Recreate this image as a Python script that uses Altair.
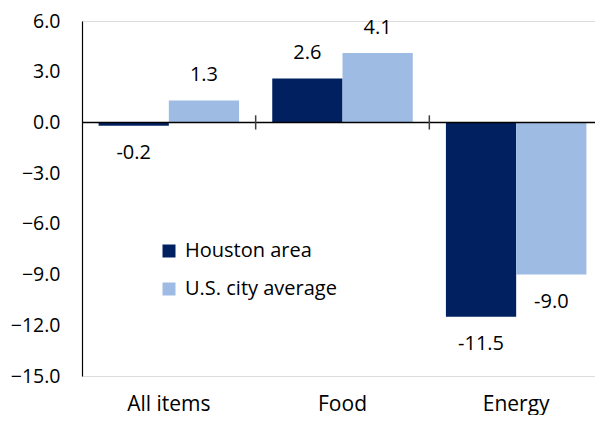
import altair as alt
import pandas as pd

categories = ["All items", "Food", "Energy"]
series = ["Houston area", "U.S. city average"]
houston = [-0.2, 2.6, -11.5]
us_avg = [1.3, 4.1, -9.0]
y_ticks = [-15, -12, -9, -6, -3, 0, 3, 6]
colors = ["#002060", "#9DBBE3"]

rows = []
for c, h, u in zip(categories, houston, us_avg):
    rows.append({"cat": c, "series": series[0], "value": h})
    rows.append({"cat": c, "series": series[1], "value": u})
df = pd.DataFrame(rows)
df["label"] = df["value"].map(lambda v: f"{v:.1f}")

ticks_df = pd.DataFrame({"cat": categories[1:], "lo": [-0.42] * 2, "hi": [0.42] * 2})

W, H = 513, 355
XRANGE = 521
FONT = "Open Sans"

xscale = alt.Scale(domain=categories, paddingInner=0, paddingOuter=0, range=[0, XRANGE])
xoff_scale = alt.Scale(domain=series, paddingOuter=0.236, paddingInner=0)
yscale = alt.Scale(domain=[-15, 6], nice=False, zero=False)

x_enc = alt.X("cat:N", scale=xscale, sort=categories,
              axis=alt.Axis(title=None, domain=False, ticks=False, labelAngle=0,
                            labelFontSize=21, labelPadding=17, labelColor="#000000",
                            labelFont=FONT))
y_enc = alt.Y("value:Q", scale=yscale,
              axis=alt.Axis(title=None, values=y_ticks, format=".1f", grid=False,
                            ticks=False, domain=True, domainColor="#000000",
                            domainWidth=1.2, labelFontSize=19.5, labelPadding=22,
                            labelColor="#000000", labelFont=FONT))

base = alt.Chart(df)

bars = base.mark_bar().encode(
    x=x_enc,
    xOffset=alt.XOffset("series:N", scale=xoff_scale, sort=series),
    y=y_enc,
    color=alt.Color("series:N", scale=alt.Scale(domain=series, range=colors),
                    legend=alt.Legend(orient="none", legendX=77, legendY=220, title=None,
                                      symbolType="square", symbolSize=169,
                                      symbolStrokeWidth=0, labelFontSize=20,
                                      labelFont=FONT, labelColor="#000000",
                                      rowPadding=18, labelOffset=6, padding=0)),
)

pos_text = base.transform_filter("datum.value >= 0").mark_text(
    fontSize=20, font=FONT, color="#000000", baseline="middle", dy=-25
).encode(
    x=alt.X("cat:N", scale=xscale, sort=categories),
    xOffset=alt.XOffset("series:N", scale=xoff_scale, sort=series),
    y=alt.Y("value:Q", scale=yscale),
    text="label:N",
)
neg_text = base.transform_filter("datum.value < 0").mark_text(
    fontSize=20, font=FONT, color="#000000", baseline="middle", dy=27
).encode(
    x=alt.X("cat:N", scale=xscale, sort=categories),
    xOffset=alt.XOffset("series:N", scale=xoff_scale, sort=series),
    y=alt.Y("value:Q", scale=yscale),
    text="label:N",
)

zero_line = alt.Chart(pd.DataFrame({"z": [0]})).mark_rule(color="#000000", strokeWidth=1.5).encode(
    y=alt.Y("z:Q", scale=yscale),
    x=alt.value(0),
    x2=alt.value(W),
)

tick_marks = alt.Chart(ticks_df).mark_rule(color="#404040", strokeWidth=1.5).encode(
    x=alt.X("cat:N", scale=xscale, sort=categories, bandPosition=0),
    y=alt.Y("lo:Q", scale=yscale),
    y2="hi:Q",
)

chart = alt.layer(bars, zero_line, tick_marks, pos_text, neg_text).properties(
    width=W, height=H,
    autosize=alt.AutoSizeParams(type="none"),
    padding={"left": 74, "top": 13, "right": 0, "bottom": 39},
).configure_view(stroke=None).configure(background="#ffffff")

chart.save("out.html", embed_options={"renderer": "svg", "actions": False})
